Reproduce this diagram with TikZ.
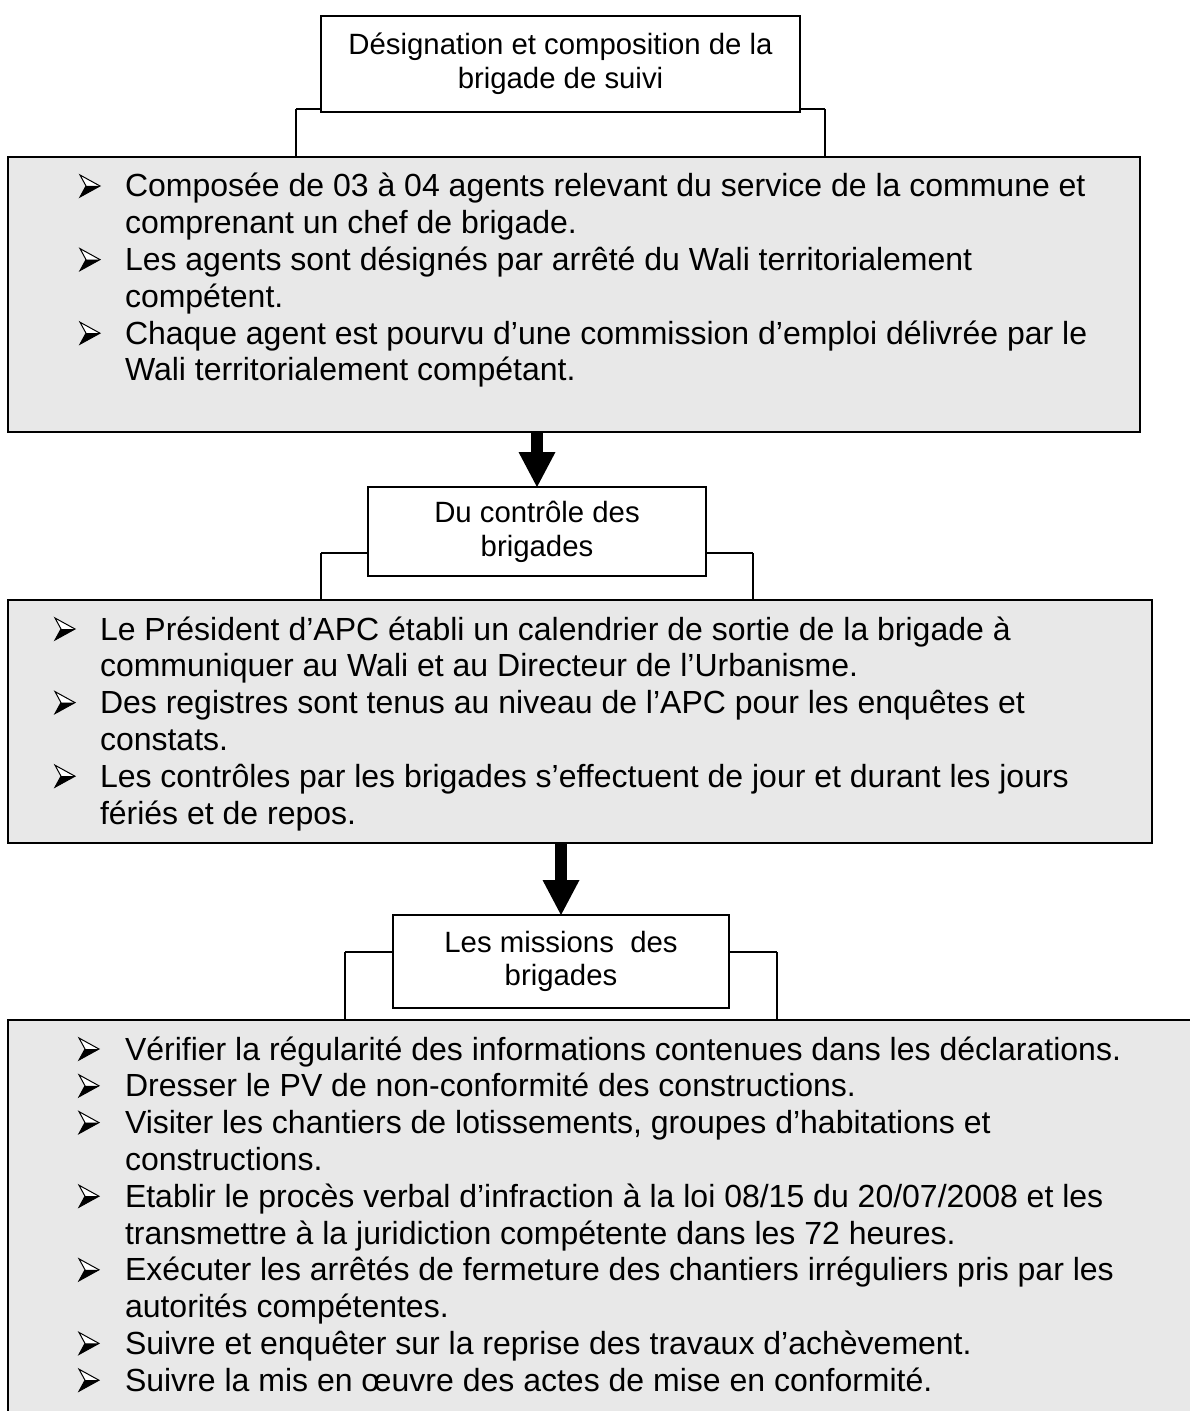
\documentclass[tikz,border=0pt]{standalone}
\usepackage{fontspec}
\setmainfont{Liberation Sans}
\usetikzlibrary{arrows.meta}
\definecolor{panelgray}{RGB}{232,232,232}
\begin{document}
\begin{tikzpicture}[x=0.5pt,y=-0.5pt,
  every node/.style={inner sep=0pt, outer sep=0pt},
  body/.style={anchor=base west, font=\fontsize{16}{18.4}\selectfont},
  head/.style={draw, line width=1pt, fill=white, align=center,
    font=\fontsize{14.67}{16.87}\selectfont},
  panel/.style={draw, line width=1pt, fill=panelgray},
  link/.style={line width=1pt},
  flow/.style={line width=6pt, -{Triangle[width=18.5pt,length=17.5pt,line width=0pt]}},
  % three-d arrowhead bullet, origin at its top-left corner
  arrowbullet/.pic={
    \fill[white] (0,0) -- (20,11) -- (6,11) -- cycle;
    \fill[black] (6,11) -- (20,11) -- (0,22) -- cycle;
    \draw[line width=0.5pt, line join=miter] (0,0) -- (20,11) -- (0,22) -- (6,11) -- cycle;
  }]

\useasboundingbox (0,0) rectangle (1189,1411);

% grey panels holding the bullet lists
\node[panel, minimum width=566pt, minimum height=137.5pt] (p1) at (574,294.5) {};
\node[panel, minimum width=572pt, minimum height=121.5pt] (p2) at (580,721.5) {};
\node[fill=panelgray, anchor=north west, minimum width=600pt, minimum height=210pt] (p3) at (8,1020) {};
\draw[link] (p3.south west) -- (p3.north west) -- (p3.north east);

% side links from each heading down to its panel
\coordinate (l1) at (296,109);
\coordinate (r1) at (825,109);
\coordinate (l2) at (321,553);
\coordinate (r2) at (753,553);
\coordinate (l3) at (345,952);
\coordinate (r3) at (777,952);
\draw[link] (l1) -- (l1 |- p1.north);
\draw[link] (r1) -- (r1 |- p1.north);
\draw[link] (l2) -- (l2 |- p2.north);
\draw[link] (r2) -- (r2 |- p2.north);
\draw[link] (l3) -- (l3 |- p3.north);
\draw[link] (r3) -- (r3 |- p3.north);

% headings
\node[head, minimum width=239.5pt, minimum height=48pt] (h1) at (560.5,64)
  {Désignation et composition de la\\brigade de suivi};
\node[head, minimum width=169pt, minimum height=44.5pt] (h2) at (537,531.5)
  {Du contrôle des\\brigades};
\node[head, minimum width=168pt, minimum height=46.5pt] (h3) at (561,961.5)
  {Les missions~ des\\brigades};

\draw[link] (h1.west |- l1) -- (l1);
\draw[link] (h1.east |- r1) -- (r1);
\draw[link] (h2.west |- l2) -- (l2);
\draw[link] (h2.east |- r2) -- (r2);
\draw[link] (h3.west |- l3) -- (l3);
\draw[link] (h3.east |- r3) -- (r3);

% flow arrows between the stages
\draw[flow] (p1.south -| h2.north) -- (h2.north);
\draw[flow] (p2.south -| h3.north) -- (h3.north);

% panel 1
\pic at (80,175) {arrowbullet};
\node[body] (a1t) at (125,197) {Composée de 03 à 04 agents relevant du service de la commune et};
\node[body] (a1u) at (125,233.8) {comprenant un chef de brigade.};
\pic at (80,248.6) {arrowbullet};
\node[body] (a2t) at (125,270.6) {Les agents sont désignés par arrêté du Wali territorialement};
\node[body] (a2u) at (125,307.4) {compétent.};
\pic at (80,322.2) {arrowbullet};
\node[body] (a3t) at (125,344.2) {Chaque agent est pourvu d’une commission d’emploi délivrée par le};
\node[body] (a3u) at (125,381) {Wali territorialement compétant.};

% panel 2
\pic at (55,618) {arrowbullet};
\node[body] (b1t) at (100,640) {Le Président d’APC établi un calendrier de sortie de la brigade à};
\node[body] (b1u) at (100,676.8) {communiquer au Wali et au Directeur de l’Urbanisme.};
\pic at (55,691.6) {arrowbullet};
\node[body] (b2t) at (100,713.6) {Des registres sont tenus au niveau de l’APC pour les enquêtes et};
\node[body] (b2u) at (100,750.4) {constats.};
\pic at (55,765.2) {arrowbullet};
\node[body] (b3t) at (100,787.2) {Les contrôles par les brigades s’effectuent de jour et durant les jours};
\node[body] (b3u) at (100,824) {fériés et de repos.};

% panel 3
\pic at (79,1038) {arrowbullet};
\node[body] (c1t) at (125,1060) {Vérifier la régularité des informations contenues dans les déclarations.};
\pic at (79,1074.8) {arrowbullet};
\node[body] (c2t) at (125,1096.8) {Dresser le PV de non-conformité des constructions.};
\pic at (79,1111.6) {arrowbullet};
\node[body] (c3t) at (125,1133.6) {Visiter les chantiers de lotissements, groupes d’habitations et};
\node[body] (c3u) at (125,1170.4) {constructions.};
\pic at (79,1185.2) {arrowbullet};
\node[body] (c4t) at (125,1207.2) {Etablir le procès verbal d’infraction à la loi 08/15 du 20/07/2008 et les};
\node[body] (c4u) at (125,1244) {transmettre à la juridiction compétente dans les 72 heures.};
\pic at (79,1258.8) {arrowbullet};
\node[body] (c5t) at (125,1280.8) {Exécuter les arrêtés de fermeture des chantiers irréguliers pris par les};
\node[body] (c5u) at (125,1317.6) {autorités compétentes.};
\pic at (79,1332.4) {arrowbullet};
\node[body] (c6t) at (125,1354.4) {Suivre et enquêter sur la reprise des travaux d’achèvement.};
\pic at (79,1369.2) {arrowbullet};
\node[body] (c7t) at (125,1391.2) {Suivre la mis en œuvre des actes de mise en conformité.};
\end{tikzpicture}
\end{document}
